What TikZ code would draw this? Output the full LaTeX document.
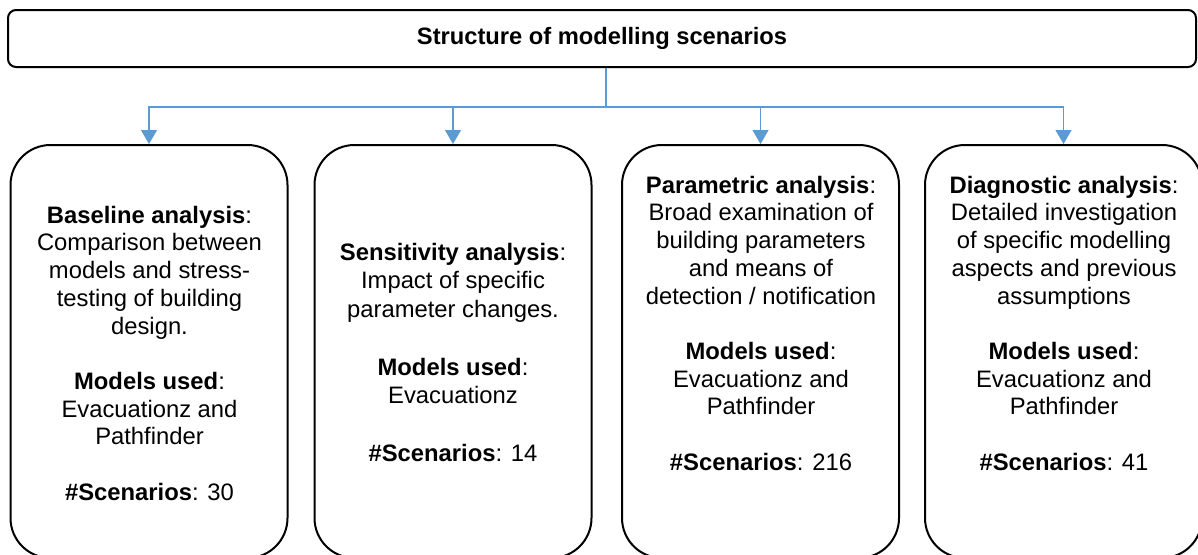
\documentclass[tikz,border=0pt]{standalone}
\usepackage{fontspec}
\setmainfont{Liberation Sans}
\usetikzlibrary{arrows.meta}
\definecolor{connblue}{HTML}{5B9BD5}
\newcommand\fstrut{\rule{0pt}{18pt}}
\begin{document}
\begin{tikzpicture}[x=1pt,y=-1pt,
  titlebox/.style={draw=black,line width=2pt,rounded corners=8pt,minimum width=1188pt,minimum height=57pt,inner sep=0pt,font=\fontsize{23.7pt}{27.7pt}\selectfont\bfseries},
  scenbox/.style={draw=black,line width=2pt,rounded corners=40pt,minimum width=277pt,minimum height=413pt,inner sep=0pt},
  boxtext/.style={align=center,anchor=north,inner sep=0pt,font=\fontsize{23.8pt}{27.7pt}\selectfont},
  conn/.style={draw=connblue,line width=1.2pt},
  connarrow/.style={conn,-{Triangle[width=16pt,length=14pt]}}
]
\useasboundingbox (0,0) rectangle (1198,554);
\clip (0,0) rectangle (1198,554);

\node[titlebox] (title) at (602,38.5) {\raisebox{-3pt}{Structure of modelling scenarios}};

\node[scenbox] (b1) at (149,351.5) {};
\node[scenbox] (b2) at (453,351.5) {};
\node[scenbox] (b3) at (760.5,351.5) {};
\node[scenbox] (b4) at (1063.5,351.5) {};

\coordinate (j) at (606,107);
\draw[conn] (title.south -| j) -- (j);
\draw[connarrow] (j) -| (b1.north);
\draw[connarrow] (j) -| (b2.north);
\draw[connarrow] (j) -| (b3.north);
\draw[connarrow] (j) -| (b4.north);

\node[boxtext] (t1) at (149.5,205) {\fstrut\textbf{Baseline analysis}:\\Comparison between\\models and stress-\\testing of building\\design.\\[27.7pt]\textbf{Models used}:\\Evacuationz and\\Pathfinder\\[27.7pt]\textbf{\#Scenarios}: 30};

\node[boxtext,font=\fontsize{23.8pt}{28.7pt}\selectfont] (t2) at (453,242) {\fstrut\textbf{Sensitivity analysis}:\\Impact of specific\\parameter changes.\\[28.7pt]\textbf{Models used}:\\Evacuationz\\[28.7pt]\textbf{\#Scenarios}: 14};

\node[boxtext] (t3) at (761,175) {\fstrut\textbf{Parametric analysis}:\\Broad examination of\\building parameters\\and means of\\detection / notification\\[27.7pt]\textbf{Models used}:\\Evacuationz and\\Pathfinder\\[27.7pt]\textbf{\#Scenarios}: 216};

\node[boxtext] (t4) at (1064,175) {\fstrut\textbf{Diagnostic analysis}:\\Detailed investigation\\of specific modelling\\aspects and previous\\assumptions\\[27.7pt]\textbf{Models used}:\\Evacuationz and\\Pathfinder\\[27.7pt]\textbf{\#Scenarios}: 41};
\end{tikzpicture}
\end{document}
